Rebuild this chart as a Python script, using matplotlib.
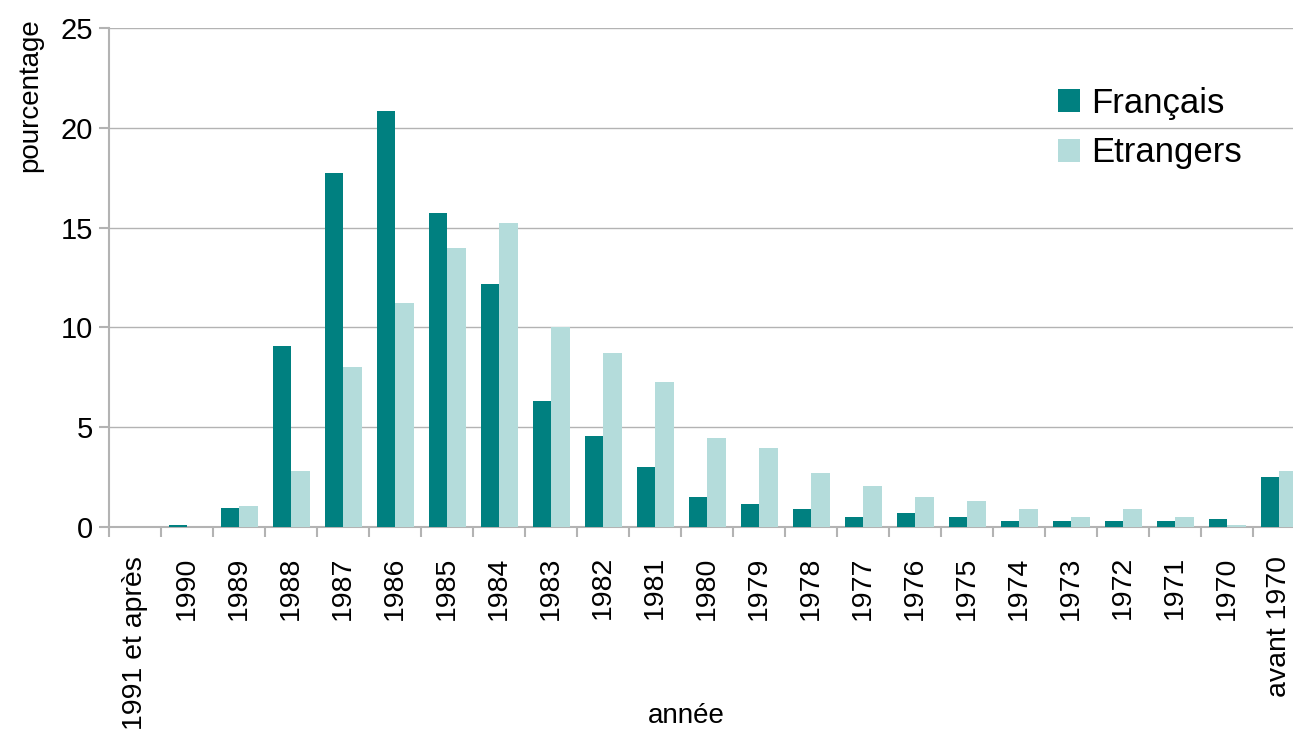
import matplotlib
matplotlib.use("Agg")
import matplotlib.pyplot as plt
import numpy as np

plt.rcParams['font.family'] = ['Liberation Sans', 'DejaVu Sans']

categories = ["1991 et après", "1990", "1989", "1988", "1987", "1986", "1985",
              "1984", "1983", "1982", "1981", "1980", "1979", "1978", "1977",
              "1976", "1975", "1974", "1973", "1972", "1971", "1970",
              "avant 1970"]
francais = [0, 0.12, 0.97, 9.08, 17.73, 20.82, 15.72, 12.17, 6.29, 4.56, 3.02,
            1.48, 1.17, 0.89, 0.5, 0.69, 0.5, 0.3, 0.3, 0.3, 0.3, 0.42, 2.53]
etrangers = [0, 0, 1.07, 2.82, 8.03, 11.2, 13.98, 15.22, 10.0, 8.7, 7.25,
             4.45, 3.98, 2.73, 2.05, 1.48, 1.28, 0.89, 0.5, 0.89, 0.5, 0.12, 2.82]
series_names = ["Français", "Etrangers"]
yticks = [0, 5, 10, 15, 20, 25]

W, H = 1293, 729
fig = plt.figure(figsize=(W / 100, H / 100), dpi=100)
# plot area runs a little past the right edge of the image, like the source
left, right, top, bottom = 109.3, 1305.3, 28, 527
ax = fig.add_axes([left / W, 1 - bottom / H, (right - left) / W, (bottom - top) / H])

x = np.arange(len(categories))
bw = 0.35
grey = '#b3b3b3'

ax.bar(x - bw / 2, francais, bw, color='#008080', label=series_names[0], zorder=3)
ax.bar(x + bw / 2, etrangers, bw, color='#b4dcdb', label=series_names[1], zorder=3)

ax.set_xlim(-0.5, len(categories) - 0.5)
ax.set_ylim(0, 25)
ax.set_yticks(yticks)
ax.yaxis.grid(True, color=grey, linewidth=1.0, zorder=0)
ax.set_axisbelow(True)

ax.set_xticks(x)
ax.set_xticklabels(categories, rotation=90, fontsize=20.5)
ax.set_xticks(np.arange(len(categories) + 1) - 0.5, minor=True)
ax.tick_params(axis='x', which='major', length=0, pad=21)
ax.tick_params(axis='x', which='minor', length=7, width=1.5, color=grey)
ax.tick_params(axis='y', length=7, width=1.5, color=grey, pad=5, labelsize=21)

for side in ['top', 'right']:
    ax.spines[side].set_visible(False)
for side in ['left', 'bottom']:
    ax.spines[side].set_color(grey)
    ax.spines[side].set_linewidth(1.5)

ax.set_ylabel('pourcentage', fontsize=20)
ax.yaxis.set_label_coords((30 - left) / (right - left), (bottom - 95) / (bottom - top))
ax.yaxis.label.set_va('center')
ax.set_xlabel('année', fontsize=20)
ax.xaxis.set_label_coords((686 - left) / (right - left), (bottom - 716) / (bottom - top))
ax.xaxis.label.set_va('center')

ax.legend(loc='upper left', bbox_to_anchor=(1058 / W, 1 - 87 / H),
          bbox_transform=fig.transFigure, frameon=False, fontsize=25,
          handlelength=0.64, handleheight=0.64, handletextpad=0.32,
          labelspacing=0.47, borderpad=0, borderaxespad=0)

fig.savefig('out.png', dpi=100)
